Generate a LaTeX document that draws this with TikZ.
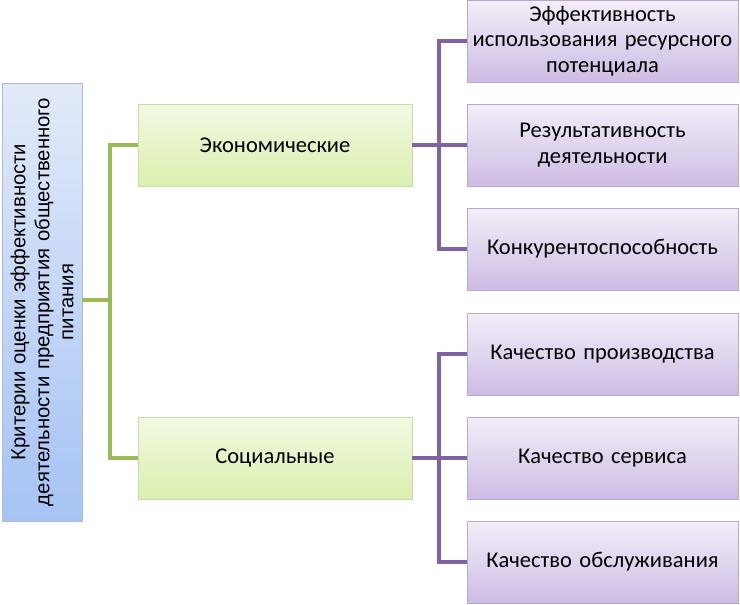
\documentclass[tikz,border=0pt]{standalone}
\usepackage{fontspec}
\setmainfont{Carlito}
\newfontfamily\arialfont{Liberation Sans}
\definecolor{blueTop}{HTML}{E2EAF9}
\definecolor{blueBot}{HTML}{A6C3F4}
\definecolor{blueBorder}{HTML}{A9BCD8}
\definecolor{greenTop}{HTML}{F2F9E2}
\definecolor{greenBot}{HTML}{DAEFAE}
\definecolor{greenBorder}{HTML}{CADBB0}
\definecolor{purpTop}{HTML}{F3EEF8}
\definecolor{purpBot}{HTML}{CDBCE4}
\definecolor{purpBorder}{HTML}{B9AACB}
\definecolor{greenLine}{HTML}{9BBB59}
\definecolor{purpLine}{HTML}{8064A2}
\tikzset{
  leftbox/.style={draw=blueBorder, line width=0.8pt, top color=blueTop, bottom color=blueBot, minimum width=80pt, minimum height=438pt, inner sep=0pt},
  midbox/.style={draw=greenBorder, line width=0.8pt, top color=greenTop, bottom color=greenBot, minimum width=274pt, minimum height=82pt, font=\fontsize{22.5}{26}\selectfont, text=black, align=center},
  rightbox/.style={draw=purpBorder, line width=0.8pt, top color=purpTop, bottom color=purpBot, minimum width=271pt, minimum height=82pt, font=\fontsize{22.5}{25.5}\selectfont, text=black, align=center, text width=268pt, inner sep=0pt},
  gline/.style={draw=greenLine, line width=4pt},
  pline/.style={draw=purpLine, line width=4pt}
}
\begin{document}
\begin{tikzpicture}[x=1pt,y=-1pt]
\useasboundingbox (0,0) rectangle (740,605);
\fill[white] (0,0) rectangle (740,605);
% left box
\node[leftbox] (L) at (42,302) {};
\node[rotate=90, align=center, font=\arialfont\fontsize{20.3}{24}\selectfont, text width=436pt, inner sep=0pt] (Lt) at (L.center) {Критерии оценки эффективности\\деятельности предприятия общественного\\питания};
% middle boxes
\node[midbox] (E) at (275,145) {Экономические};
\node[midbox] (S) at (275,458) {Социальные};
% right boxes
\node[rightbox] (R1) at (602.5,41) {Эффективность\\использования ресурсного\\потенциала};
\node[rightbox] (R2) at (602.5,145) {Результативность\\деятельности};
\node[rightbox] (R3) at (602.5,249) {Конкурентоспособность};
\node[rightbox] (R4) at (602.5,354) {Качество производства};
\node[rightbox] (R5) at (602.5,458) {Качество сервиса};
\node[rightbox] (R6) at (602.5,562) {Качество обслуживания};
% junction coordinates
\coordinate (gj) at (110,300);
\coordinate (pj1) at (439,145);
\coordinate (pj2) at (439,458);
% green connectors
\draw[gline] (L.east |- gj) -- (gj);
\draw[gline] (E.west) -| (gj) |- (S.west);
% purple connectors
\draw[pline] (E.east) -- (pj1);
\draw[pline] (R1.west) -| (pj1) |- (R3.west);
\draw[pline] (pj1) -- (R2.west);
\draw[pline] (S.east) -- (pj2);
\draw[pline] (R4.west) -| (pj2) |- (R6.west);
\draw[pline] (pj2) -- (R5.west);
\end{tikzpicture}
\end{document}
